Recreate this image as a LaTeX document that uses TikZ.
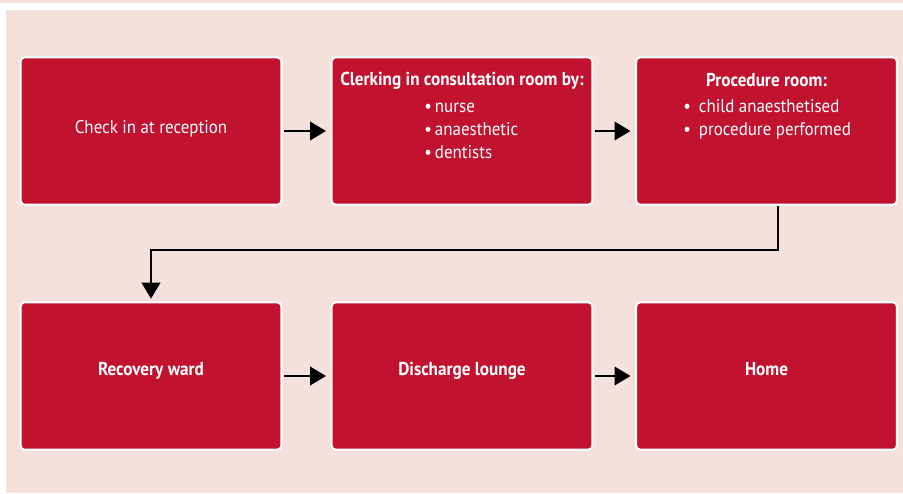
\documentclass[tikz,border=0pt]{standalone}
\usepackage{fontspec}
\setmainfont{PT Sans}[FakeStretch=0.92]
\usetikzlibrary{arrows.meta}

\definecolor{boxred}{HTML}{C1122F}
\definecolor{bgpink}{HTML}{F5E1DC}

\tikzset{
	stage/.style={draw=white, line width=1.5pt, rounded corners=3pt, fill=boxred, minimum width=195.5pt, minimum height=110.5pt, inner sep=0pt},
	txt/.style={text=white, inner sep=0pt, font=\fontsize{13.8}{17.25}\selectfont},
	head/.style={txt, font=\fontsize{14}{17.25}\selectfont\bfseries},
	flow/.style={-{Triangle[length=12pt, width=14pt]}, line width=1.5pt, black}
}

\begin{document}
\begin{tikzpicture}[x=0.75pt, y=-0.75pt]
	% background with white band
	\fill[white] (0,0) rectangle (903,493);
	\fill[bgpink] (0,0) rectangle (903,3);
	\fill[bgpink] (6,10) rectangle (903,493);
	\useasboundingbox (0,0) rectangle (903,493);

	% first row
	\node[stage] (check) at (151,131) {};
	\node[stage] (clerk) at (462,131) {};
	\node[stage] (proc) at (766.5,131) {};

	% second row
	\node[stage] (recov) at (151,376) {};
	\node[stage] (disch) at (462,376) {};
	\node[stage] (home) at (766.5,376) {};

	% texts
	\node[txt] (checktxt) at (151,129) {Check in at reception};
	\node[head] (clerkhead) at (462,80.5) {Clerking in consultation room by:};
	\node[txt, align=left, anchor=west] (clerklist) at (424,130.5) {\textbullet\,nurse\\ \textbullet\,anaesthetic\\ \textbullet\,dentists};
	\node[head] (prochead) at (766.5,80.5) {Procedure room:};
	\node[txt, align=left, anchor=west] (proclist) at (683,119) {\textbullet\hspace{6pt}child anaesthetised\\ \textbullet\hspace{6pt}procedure performed};
	\node[head] (recovtxt) at (151,371) {Recovery ward};
	\node[head] (dischtxt) at (462,371) {Discharge lounge};
	\node[head] (hometxt) at (766.5,369) {Home};

	% connectors
	\coordinate (elbow) at (151,250);
	\draw[flow, shorten <=1.5pt, shorten >=3.5pt] (check) -- (clerk);
	\draw[flow, shorten <=1.5pt, shorten >=3.5pt] (clerk) -- (proc);
	\draw[flow, shorten >=2pt] ([xshift=8.6pt]proc.south) |- (elbow) -- (recov.north);
	\draw[flow, shorten <=1.5pt, shorten >=3.5pt] (recov) -- (disch);
	\draw[flow, shorten <=1.5pt, shorten >=3.5pt] (disch) -- (home);
\end{tikzpicture}
\end{document}
